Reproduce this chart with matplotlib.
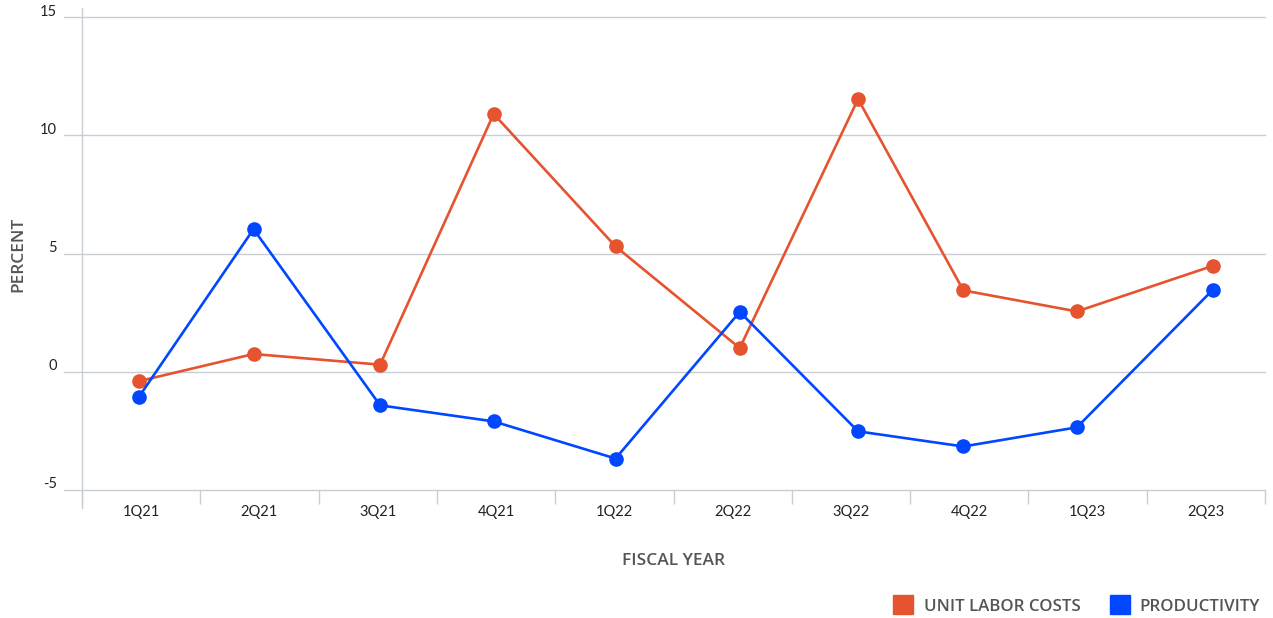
import matplotlib
matplotlib.use("Agg")
import matplotlib.pyplot as plt
import matplotlib.transforms as mtransforms
from matplotlib.patches import Rectangle

quarters = ["1Q21", "2Q21", "3Q21", "4Q21", "1Q22", "2Q22", "3Q22", "4Q22", "1Q23", "2Q23"]
# observation positions along the quarter axis (quarter index units)
period_x = [-0.02, 0.95, 2.02, 2.98, 4.01, 5.06, 6.06, 6.95, 7.91, 9.06]
unit_labor_costs = [-0.4, 0.75, 0.3, 10.9, 5.3, 1.0, 11.53, 3.44, 2.55, 4.48]
productivity = [-1.07, 6.03, -1.42, -2.1, -3.67, 2.53, -2.52, -3.16, -2.35, 3.47]
y_ticks = [-5, 0, 5, 10, 15]

ORANGE = "#E5532F"
BLUE = "#0047FF"
GRID = "#C8CDD3"
TEXT = "#222222"
TITLE = "#555555"
TITLE_FONT = ["Open Sans", "DejaVu Sans"]

plt.rcParams["font.family"] = ["Lato", "DejaVu Sans"]

W, H = 1273, 618
fig = plt.figure(figsize=(W / 100, H / 100), dpi=100)
x0, x1 = 82, 1265
y_top, y_bot = 17, 490
ax = fig.add_axes([x0 / W, 1 - y_bot / H, (x1 - x0) / W, (y_bot - y_top) / H])

ax.set_xlim(-0.5, len(quarters) - 0.5)
ax.set_ylim(-5, 15)

for s in ax.spines.values():
    s.set_visible(False)

# horizontal grid lines, extended a little left of the axis, with labels above them
gx0 = (64 - x0) / (x1 - x0)
label_shift = mtransforms.ScaledTranslation(0, 5.5 / 100, fig.dpi_scale_trans)
for v in y_ticks:
    ax.plot([gx0, 1], [v, v], transform=ax.get_yaxis_transform(), color=GRID,
            lw=1, clip_on=False, zorder=0)
    ax.text((57 - x0) / (x1 - x0), v, str(v),
            transform=ax.get_yaxis_transform() + label_shift,
            ha="right", va="center", fontsize=10.5, color=TEXT)

# vertical axis line, running slightly past both ends of the plot
ax.plot([0, 0], [1 + (y_top - 8) / (y_bot - y_top), -(508 - y_bot) / (y_bot - y_top)],
        transform=ax.transAxes, color=GRID, lw=1, clip_on=False, zorder=0)

ax.set_yticks([])
ax.set_xticks(range(len(quarters)))
ax.set_xticklabels(quarters, fontsize=10.5, color=TEXT)
ax.tick_params(axis="x", which="major", length=0, pad=11)
ax.set_xticks([i - 0.5 for i in range(len(quarters) + 1)], minor=True)
ax.tick_params(axis="x", which="minor", length=10, color=GRID, width=1)

ax.plot(period_x, unit_labor_costs, color=ORANGE, lw=1.9,
        marker="o", markersize=9.5, zorder=3, clip_on=False)
ax.plot(period_x, productivity, color=BLUE, lw=1.9,
        marker="o", markersize=9.5, zorder=3, clip_on=False)

fig.text(673 / W, 1 - 561 / H, "FISCAL YEAR", ha="center", va="center",
         fontsize=12.5, color=TITLE, fontweight="semibold", family=TITLE_FONT)
fig.text(18 / W, 1 - 254 / H, "PERCENT", ha="center", va="center", rotation=90,
         fontsize=12.5, color=TITLE, fontweight="semibold", family=TITLE_FONT)

# legend
for (sx, tx, label, col) in [(893, 924, "UNIT LABOR COSTS", ORANGE),
                              (1110, 1139, "PRODUCTIVITY", BLUE)]:
    fig.patches.append(Rectangle((sx / W, 1 - 614 / H), 20 / W, 19 / H,
                                 transform=fig.transFigure, color=col))
    fig.text(tx / W, 1 - 607 / H, label, ha="left", va="center", fontsize=12.2,
             color=TITLE, fontweight="semibold", family=TITLE_FONT)

fig.savefig("out.png", dpi=100)
